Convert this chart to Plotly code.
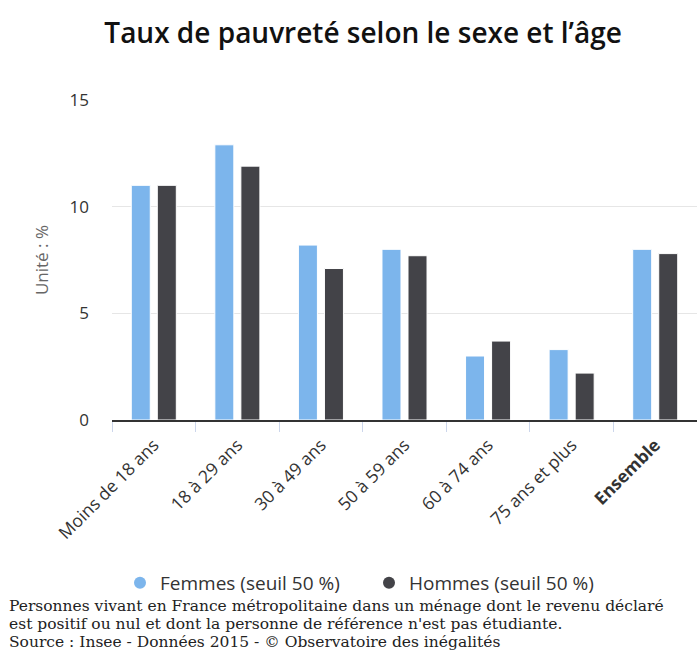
import plotly.graph_objects as go

categories = ["Moins de 18 ans", "18 à 29 ans", "30 à 49 ans", "50 à 59 ans",
              "60 à 74 ans", "75 ans et plus", "<b>Ensemble</b>"]
femmes = [11.0, 12.9, 8.2, 8.0, 3.0, 3.3, 8.0]
hommes = [11.0, 11.9, 7.1, 7.7, 3.7, 2.2, 7.8]
series_names = ["Femmes (seuil 50 %)", "Hommes (seuil 50 %)"]
y_ticks = [0, 5, 10, 15]

title_text = "Taux de pauvreté selon le sexe et l’âge"
y_title = "Unité : %"
footer_lines = [
    "Personnes vivant en France métropolitaine dans un ménage dont le revenu déclaré",
    "est positif ou nul et dont la personne de référence n'est pas étudiante.",
    "Source : Insee - Données 2015 - © Observatoire des inégalités",
]

c_f = "#7cb5ec"
c_h = "#434348"

W, H = 697, 653
L, R, T, B = 112, 0, 100, 233
PW, PH = W - L - R, H - T - B


def px_to_paper_x(px):
    return (px - L) / PW


def px_to_paper_y(py):
    return (H - B - py) / PH


fig = go.Figure()
fig.add_trace(go.Bar(x=categories, y=femmes, name=series_names[0], marker_color=c_f,
                     marker_line_color="white", marker_line_width=1, showlegend=False))
fig.add_trace(go.Bar(x=categories, y=hommes, name=series_names[1], marker_color=c_h,
                     marker_line_color="white", marker_line_width=1, showlegend=False))
# legend entries with round symbols, one legend each for precise placement
for name, col, lg in zip(series_names, [c_f, c_h], ["legend", "legend2"]):
    fig.add_trace(go.Scatter(x=[None], y=[None], mode="markers", name=name, legend=lg,
                             marker=dict(symbol="circle", size=16, color=col)))

legend_common = dict(orientation="h", xanchor="left", yanchor="middle",
                     font=dict(family="Open Sans", size=19, color="#333"),
                     itemsizing="constant", bgcolor="rgba(0,0,0,0)")

annotations = []
for i, line in enumerate(footer_lines):
    annotations.append(dict(text=line, xref="paper", yref="paper",
                            x=px_to_paper_x(7), y=px_to_paper_y(605.5 + 18.2 * i),
                            xanchor="left", yanchor="middle", align="left", showarrow=False,
                            font=dict(family="DejaVu Serif", size=15.5, color="#222")))

fig.update_layout(
    width=W, height=H,
    margin=dict(l=L, r=R, t=T, b=B),
    paper_bgcolor="white", plot_bgcolor="white",
    barmode="group", bargap=0.377, bargroupgap=0.27,
    font=dict(family="Open Sans", color="#333"),
    title=dict(text=title_text, x=0.521, xref="container", xanchor="center",
               y=1 - 33 / H, yref="container", yanchor="middle",
               font=dict(family="Open Sans", size=28, weight=600, color="#111")),
    legend=dict(x=px_to_paper_x(140 - 20), y=px_to_paper_y(583), **legend_common),
    legend2=dict(x=px_to_paper_x(389 - 20), y=px_to_paper_y(583), **legend_common),
    xaxis=dict(type="category", showline=True, linecolor="#333", linewidth=2,
               ticks="outside", tickson="boundaries", tickcolor="#ccd6eb", ticklen=10,
               tickangle=-45, ticklabelstandoff=6,
               tickfont=dict(family="Open Sans", size=17.5, color="#333"),
               showgrid=False),
    yaxis=dict(range=[0, 15], tickvals=y_ticks, showgrid=True, gridcolor="#e6e6e6",
               zeroline=False, ticks="", ticklabelstandoff=22,
               tickfont=dict(family="Open Sans", size=17, color="#333"),
               title=dict(text=y_title, standoff=16,
                          font=dict(family="Open Sans", size=17, color="#666"))),
    annotations=annotations,
)

fig.write_html("out.html", config={"displayModeBar": False},
               post_script="document.body.style.margin='0';")
